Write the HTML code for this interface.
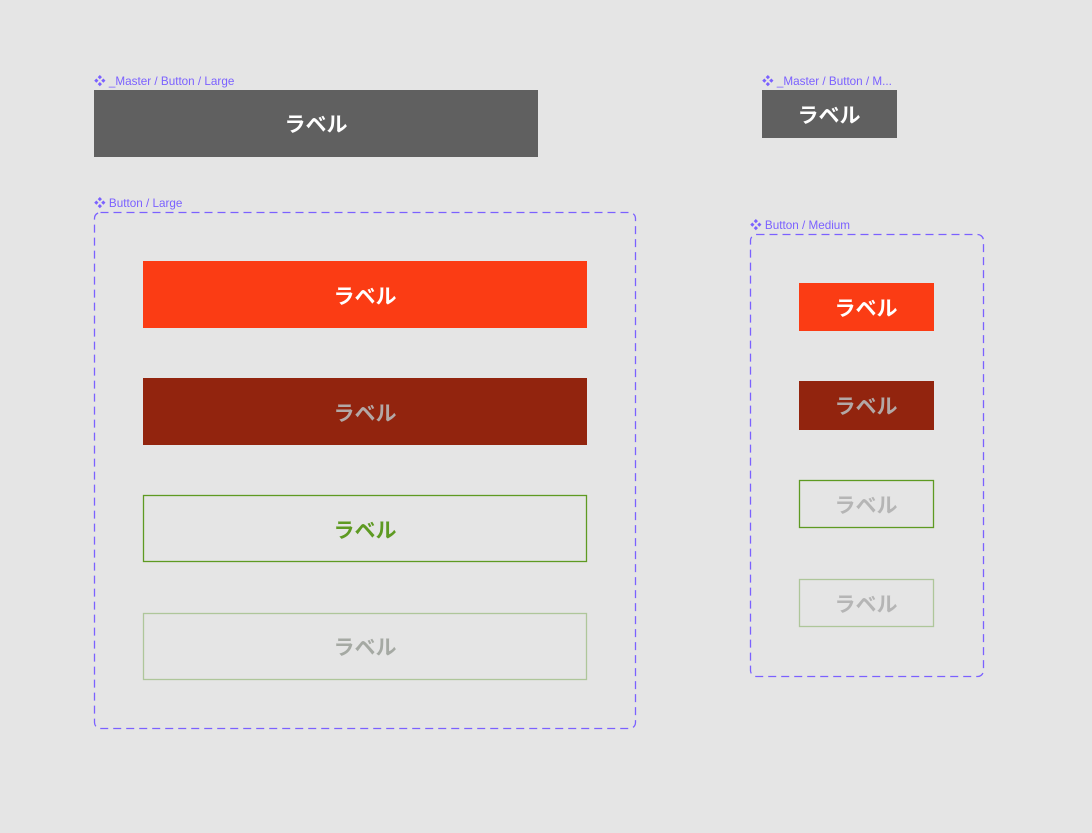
<!DOCTYPE html>
<html><head><meta charset="utf-8"><style>
html,body{margin:0;padding:0;background:#e5e5e5;}
svg{display:block;}
text{font-family:"Liberation Sans","Noto Sans CJK JP",sans-serif;}
.t{font-size:11.7px;fill:#7b61ff;}
.b{font-size:21px;font-weight:bold;text-anchor:middle;dominant-baseline:central;}
</style></head><body>
<svg width="1092" height="833" viewBox="0 0 1092 833">
<rect width="1092" height="833" fill="#e5e5e5"/>
<text class="t" x="94" y="85">❖ _Master / Button / Large</text>
<rect x="94" y="90" width="444" height="67" fill="#606060"/>
<text class="b" x="316" y="125" fill="#fff">ラベル</text>

<text class="t" x="762" y="85">❖ _Master / Button / M...</text>
<rect x="762" y="90" width="135" height="48" fill="#606060"/>
<text class="b" x="829" y="116" fill="#fff">ラベル</text>

<text class="t" x="94" y="207">❖ Button / Large</text>
<rect x="94.5" y="212.5" width="541" height="516" rx="6" fill="none" stroke="#7b61ff" stroke-width="1.3" stroke-dasharray="8 5"/>
<rect x="143" y="261" width="444" height="67" fill="#fb3c14"/>
<text class="b" x="365" y="297" fill="#fff">ラベル</text>
<rect x="143" y="378" width="444" height="67" fill="#92240e"/>
<text class="b" x="365" y="414" fill="#b3a8a6">ラベル</text>
<rect x="143.5" y="495.5" width="443" height="66" fill="none" stroke="#5e9a22" stroke-width="1.3"/>
<text class="b" x="365" y="531" fill="#5e9a22">ラベル</text>
<rect x="143.5" y="613.5" width="443" height="66" fill="none" stroke="#aec69a" stroke-width="1.3"/>
<text class="b" x="365" y="648" fill="#a5a9a3">ラベル</text>

<text class="t" x="750" y="229">❖ Button / Medium</text>
<rect x="750.5" y="234.5" width="233" height="442" rx="6" fill="none" stroke="#7b61ff" stroke-width="1.3" stroke-dasharray="8 5"/>
<rect x="799" y="283" width="135" height="48" fill="#fb3c14"/>
<text class="b" x="866" y="309" fill="#fff">ラベル</text>
<rect x="799" y="381" width="135" height="49" fill="#92240e"/>
<text class="b" x="866" y="407" fill="#b3a8a6">ラベル</text>
<rect x="799.5" y="480.5" width="134" height="47" fill="none" stroke="#5e9a22" stroke-width="1.3"/>
<text class="b" x="866" y="506" fill="#b5b5b5">ラベル</text>
<rect x="799.5" y="579.5" width="134" height="47" fill="none" stroke="#aec69a" stroke-width="1.3"/>
<text class="b" x="866" y="605" fill="#b5b5b5">ラベル</text>
</svg>
</body></html>
